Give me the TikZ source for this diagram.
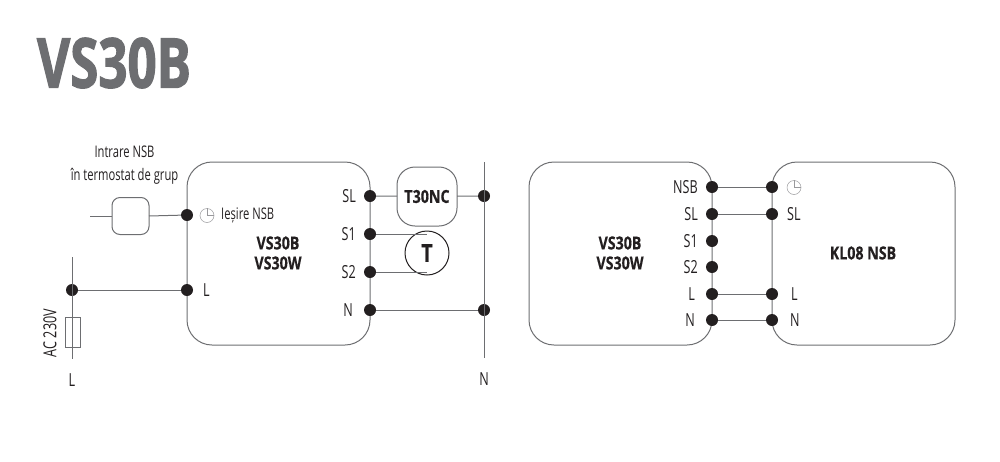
\documentclass[tikz,border=0pt]{standalone}
\usepackage{fontspec}
\setmainfont{Open Sans}[FakeStretch=0.7]
\newfontface\titlefont{Open Sans Bold}[FakeStretch=0.74,FakeBold=1.6]
\newfontface\labelbold{Open Sans Bold}[FakeStretch=0.79,FakeBold=0.4]
\definecolor{wiregray}{HTML}{6D6E71}
\definecolor{inkdark}{HTML}{231F20}
\tikzset{
  wire/.style={draw=wiregray,line width=1pt},
  dot/.style={circle,fill=inkdark,inner sep=0pt,minimum size=12pt},
  unitbox/.style={draw=wiregray,line width=1pt,rounded corners=25pt,minimum width=183pt,minimum height=183pt,inner sep=0pt,outer sep=0pt},
  lab/.style={font=\fontsize{18}{18}\selectfont,text=inkdark,inner sep=0pt},
  boldlab/.style={font=\fontsize{18}{20}\labelbold,text=inkdark,inner sep=0pt,align=center},
  clockface/.style={circle,draw=wiregray!70,line width=.5pt,inner sep=0pt,minimum size=14pt}
}
\begin{document}
\begin{tikzpicture}
  [x=1pt,y=-1pt]
  \useasboundingbox (0,0) rectangle (1000,461);
  \node[font=\fontsize{69}{69}\titlefont,text=wiregray,inner sep=0pt] (title) at (114,63) {VS30B};

  % left unit
  \node[unitbox] (vsa) at (278.5,253.5) {};
  \node[draw=wiregray,line width=1pt,fill=white,rounded corners=8pt,minimum size=37pt,inner sep=0pt,outer sep=0pt] (nsbbox) at (130.5,216) {};
  \node[draw=wiregray,line width=1pt,fill=white,rounded corners=18pt,minimum width=60pt,minimum height=59pt,inner sep=0pt,outer sep=0pt,font=\fontsize{18}{18}\labelbold,text=inkdark] (tnc) at (427,196.5) {T30NC};
  \node[circle,draw=inkdark,line width=1pt,fill=white,minimum size=44pt,inner sep=0pt,outer sep=0pt,font=\fontsize{25}{25}\labelbold,text=inkdark] (tsens) at (427,253) {T};
  \node[draw=wiregray,line width=.8pt,minimum width=15pt,minimum height=30pt,inner sep=0pt,outer sep=0pt] (fuse) at (72.5,332) {};

  \node[dot] (a1) at (187,215) {};
  \node[dot] (a2) at (187,290) {};
  \node[dot] (a3) at (72,290) {};
  \node[dot] (sl) at (370,196) {};
  \node[dot] (s1) at (370,234) {};
  \node[dot] (s2) at (370,272) {};
  \node[dot] (na) at (370,310) {};
  \node[dot] (n1) at (484,196) {};
  \node[dot] (n2) at (484,310) {};
  \coordinate (nsbend) at (90,216);
  \coordinate (ltop) at (72,257);
  \coordinate (lbot) at (72,359);
  \coordinate (ntop) at (484,162);
  \coordinate (nbot) at (484,358);

  \foreach \from/\to in {nsbend/nsbbox.west,nsbbox.east/a1,a3/a2,sl/tnc,tnc/n1,na/n2,ltop/lbot,ntop/nbot}
    \draw[wire] (\from) -- (\to);
  \draw[wire] (s1) -- (s1-|tsens.north);
  \draw[wire] (s2) -- (s2-|tsens.south);
  \draw[draw=wiregray,line width=.8pt] (fuse.south west) rectangle (fuse.north east);

  \node[lab,align=center,font=\fontsize{16}{23}\selectfont] (intr) at (124.5,165) {Intrare NSB\\în termostat de grup};
  \node[clockface] (clka) at (207,215.5) {};
  \draw[draw=wiregray!70,line width=.5pt] (clka.north) -- (clka.center) -- (clka.east);
  \node[lab,font=\fontsize{16}{16}\selectfont,anchor=west] (iesire) at (221,215.5) {Ieșire NSB};
  \node[boldlab] (vsname) at (278,253) {VS30B\\VS30W};
  \node[lab,anchor=west] (llab) at (203,290) {L};
  \node[lab,anchor=east] (sllab) at (356,196) {SL};
  \node[lab,anchor=east] (s1lab) at (356,234) {S1};
  \node[lab,anchor=east] (s2lab) at (356,272) {S2};
  \node[lab,anchor=east] (nlab) at (353,310) {N};
  \node[lab] (nb) at (484,379) {N};
  \node[lab] (lb) at (72,380) {L};
  \node[lab,rotate=90] (ac) at (50,333) {AC 230V};

  % right pair
  \node[unitbox] (vsb) at (620.5,253.5) {};
  \node[unitbox] (klo) at (863.5,253.5) {};
  \node[dot] (b1) at (712,187) {};
  \node[dot] (b2) at (712,214) {};
  \node[dot] (b3) at (712,241) {};
  \node[dot] (b4) at (712,267) {};
  \node[dot] (b5) at (712,294) {};
  \node[dot] (b6) at (712,320) {};
  \node[dot] (c1) at (772,187) {};
  \node[dot] (c2) at (772,214) {};
  \node[dot] (c5) at (772,294) {};
  \node[dot] (c6) at (772,320) {};

  \foreach \from/\to in {b1/c1,b2/c2,b5/c5,b6/c6}
    \draw[wire] (\from) -- (\to);

  \node[lab,anchor=east] (bl1) at (698,187) {NSB};
  \node[lab,anchor=east] (bl2) at (698,214) {SL};
  \node[lab,anchor=east] (bl3) at (698,241) {S1};
  \node[lab,anchor=east] (bl4) at (698,267) {S2};
  \node[lab,anchor=east] (bl5) at (695,294) {L};
  \node[lab,anchor=east] (bl6) at (695,320) {N};
  \node[clockface] (clkb) at (794,187.5) {};
  \draw[draw=wiregray!70,line width=.5pt] (clkb.north) -- (clkb.center) -- (clkb.east);
  \node[lab,anchor=west] (cl2) at (787,214) {SL};
  \node[lab,anchor=west] (cl5) at (791,294) {L};
  \node[lab,anchor=west] (cl6) at (790,320) {N};
  \node[boldlab] (vsnameb) at (620,253) {VS30B\\VS30W};
  \node[boldlab] (klname) at (863,253) {KL08 NSB};
\end{tikzpicture}
\end{document}
